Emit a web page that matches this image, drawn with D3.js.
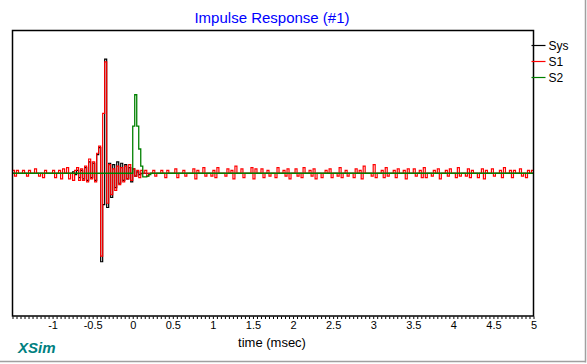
<!DOCTYPE html>
<html><head><meta charset="utf-8">
<script src="https://cdn.jsdelivr.net/npm/d3@7"></script>
<style>
body{margin:0;background:#fff;}
svg{display:block;font-family:"Liberation Sans",Arial,sans-serif;}
</style></head>
<body>
<svg id="c" width="587" height="364"></svg>
<script>
// ---- data ----
const title = "Impulse Response (#1)";
const xLabel = "time (msec)";
const brand = "XSim";
const seriesNames = ["Sys", "S1", "S2"];
const seriesColors = ["#000000", "#ff0000", "#008000"];
const tStart = -1.5;      // msec, first sample
const tStep = 0.025;      // msec, sample period
const xDomain = [-1.5, 5];
const majorTicks = [-1, -0.5, 0, 0.5, 1, 1.5, 2, 2.5, 3, 3.5, 4, 4.5, 5];
const minorStep = 0.05;

const sysValues = [
0,0,0,0,0,0,0,0,0,0,0,0,0,0,0,0,0,0,0,0,
0,0,0,0,0,0,0,0,0,0,.01,-.01,.02,-.03,.02,-.04,.04,-.05,.08,-.03,
.07,-.05,.13,.18,-.62,-.22,.8,-.24,.07,-.17,.06,-.1,.08,-.07,.07,-.05,.06,-.04,.04,-.06,
.03,-.02,.01,-.01,0,0,0,0,0,0,0,0,0,0,0,0,0,0,0,0,
0,0,0,0,0,0,0,0,0,0,0,0,0,0,0,0,0,0,0,0,
0,0,0,0,0,0,0,0,0,0,0,0,0,0,0,0,0,0,0,0,
0,0,0,0,0,0,0,0,0,0,0,0,0,0,0,0,0,0,0,0,
0,0,0,0,0,0,0,0,0,0,0,0,0,0,0,0,0,0,0,0,
0,0,0,0,0,0,0,0,0,0,0,0,0,0,0,0,0,0,0,0,
0,0,0,0,0,0,0,0,0,0,0,0,0,0,0,0,0,0,0,0,
0,0,0,0,0,0,0,0,0,0,0,0,0,0,0,0,0,0,0,0,
0,0,0,0,0,0,0,0,0,0,0,0,0,0,0,0,0,0,0,0,
0,0,0,0,0,0,0,0,0,0,0,0,0,0,0,0,0,0,0,0,
0];

const s1Values = [
.02,-.02,.02,0,0,.02,0,-.02,.02,0,0,.03,0,-.02,0,-.03,.02,0,0,0,
.02,-.03,0,.02,-.04,.03,0,.04,-.04,0,-.05,.02,.04,-.05,.03,-.05,.05,-.06,.1,-.04,
.08,-.06,.14,.19,-.58,.42,.78,-.21,.06,-.15,.03,-.12,.05,-.08,.04,-.06,.05,-.04,.06,-.05,
.03,-.02,.02,-.03,.02,0,.02,-.02,0,0,.02,-.02,0,0,.02,0,-.03,.02,0,0,
0,.03,-.03,0,0,.02,-.02,0,0,0,.03,-.04,.02,0,0,.04,-.02,0,0,-.02,
.02,-.03,.04,0,0,0,-.02,.03,0,.02,-.04,.05,0,0,.03,-.03,0,0,0,.04,
-.04,.03,0,0,.03,-.03,0,.02,-.02,0,0,-.03,.04,0,0,.02,-.02,.03,-.04,0,
0,.03,-.02,0,-.03,.04,0,0,.02,-.02,.03,-.04,0,0,-.03,0,.02,0,.03,-.03,
0,0,-.02,.04,-.03,0,.02,-.02,0,0,-.03,.03,0,.02,-.04,.05,0,0,0,-.02,
.06,-.03,0,0,.02,-.03,.04,-.02,0,0,.02,-.03,.03,0,0,.02,-.04,.03,0,0,
.03,-.02,0,.02,-.03,.04,-.03,0,0,-.02,.02,0,.03,-.04,0,0,.02,-.02,.03,0,
0,-.03,.04,-.02,0,0,-.02,.03,-.03,.02,0,0,-.03,0,.03,-.04,.02,0,0,.03,
-.02,0,0,.02,-.03,.04,0,0,.02,-.03,.02,0,0,.03,-.02,0,-.03,.02,0,.02,
.02];

const s2Values = [
0,0,0,0,0,0,0,0,0,0,0,0,0,0,0,0,0,0,0,0,
0,0,0,0,0,0,0,0,0,0,0,0,0,0,0,0,0,0,0,0,
0,0,0,0,0,0,0,0,0,0,0,0,0,0,0,0,0,0,0,0,
.33,.55,.33,.17,.05,-.025,-.025,-.02,-.01,0,0,0,0,0,0,0,0,0,0,0,
0,0,0,0,0,0,0,0,0,0,0,0,0,0,0,0,0,0,0,0,
0,0,0,0,0,0,0,0,0,0,0,0,0,0,0,0,0,0,0,0,
0,0,0,0,0,0,0,0,0,0,0,0,0,0,0,0,0,0,0,0,
0,0,0,0,0,0,0,0,0,0,0,0,0,0,0,0,0,0,0,0,
0,0,0,0,0,0,0,0,0,0,0,0,0,0,0,0,0,0,0,0,
0,0,0,0,0,0,0,0,0,0,0,0,0,0,0,0,0,0,0,0,
0,0,0,0,0,0,0,0,0,0,0,0,0,0,0,0,0,0,0,0,
0,0,0,0,0,0,0,0,0,0,0,0,0,0,0,0,0,0,0,0,
0,0,0,0,0,0,0,0,0,0,0,0,0,0,0,0,0,0,0,0,
0];

const seriesValues = [sysValues, s1Values, s2Values];

// ---- layout ----
const W = 587, H = 364;
const plot = {left: 12.5, right: 533.5, top: 30.5, bottom: 316};
const svg = d3.select("#c");

const x = d3.scaleLinear().domain(xDomain).range([plot.left, plot.right]);
const y = d3.scaleLinear().domain([-1, 1]).range([plot.bottom, plot.top]);

// outer sunken border (right + bottom)
svg.append("line").attr("x1", W - 1.5).attr("x2", W - 1.5).attr("y1", 0).attr("y2", H - 1.5)
  .attr("stroke", "#a0a0a0").attr("stroke-width", 1.5);
svg.append("line").attr("x1", 0).attr("x2", W - 1.5).attr("y1", H - 2.5).attr("y2", H - 2.5)
  .attr("stroke", "#a0a0a0").attr("stroke-width", 1.5);

// title
svg.append("text").attr("x", 272).attr("y", 23).attr("text-anchor", "middle")
  .attr("fill", "#0000ff").attr("font-size", 15).text(title);

// clip
svg.append("defs").append("clipPath").attr("id", "clip").append("rect")
  .attr("x", plot.left).attr("y", plot.top)
  .attr("width", plot.right - plot.left).attr("height", plot.bottom - plot.top);

const line = d3.line()
  .x((d, i) => x(tStart + i * tStep))
  .y(d => y(d))
  .curve(d3.curveStepAfter);

const g = svg.append("g").attr("clip-path", "url(#clip)");
const widths = [1.2, 1.2, 1.3];
seriesValues.forEach((vals, k) => {
  g.append("path").datum(vals).attr("d", line)
    .attr("fill", "none").attr("stroke", seriesColors[k])
    .attr("stroke-width", widths[k]).attr("stroke-linejoin", "miter");
});

// frame
svg.append("rect").attr("x", plot.left).attr("y", plot.top)
  .attr("width", plot.right - plot.left).attr("height", plot.bottom - plot.top)
  .attr("fill", "none").attr("stroke", "#000").attr("stroke-width", 1.5);

// minor ticks
const minorVals = d3.range(0, Math.round((xDomain[1] - xDomain[0]) / minorStep) + 1)
  .map(i => xDomain[0] + i * minorStep);
const minorAxis = svg.append("g").attr("transform", `translate(0,${plot.bottom + 0.5})`)
  .call(d3.axisBottom(x).tickValues(minorVals).tickSize(2.5).tickFormat(""));
minorAxis.select(".domain").remove();
minorAxis.selectAll("line").attr("stroke", "#000").attr("stroke-width", 1);

// labels
const labAxis = svg.append("g").attr("transform", `translate(0,${plot.bottom})`)
  .call(d3.axisBottom(x).tickValues(majorTicks).tickSize(0).tickPadding(5).tickFormat(d => String(d)));
labAxis.select(".domain").remove();
labAxis.selectAll("text").attr("font-size", 11).attr("fill", "#000")
  .attr("font-family", "Liberation Sans, Arial, sans-serif");

// x label
svg.append("text").attr("x", 272).attr("y", 347).attr("text-anchor", "middle")
  .attr("font-size", 13).attr("fill", "#000").text(xLabel);

// brand
svg.append("text").attr("x", 18).attr("y", 353)
  .attr("font-size", 15).attr("font-weight", "bold").attr("font-style", "italic")
  .attr("fill", "#008080").text(brand);

// legend
const legY = d3.scalePoint().domain(seriesNames).range([45.5, 77.5]);
seriesNames.forEach((n, k) => {
  svg.append("line").attr("x1", plot.right - 2).attr("x2", plot.right + 12)
    .attr("y1", legY(n)).attr("y2", legY(n))
    .attr("stroke", seriesColors[k]).attr("stroke-width", 1.2);
  svg.append("text").attr("x", plot.right + 15).attr("y", legY(n) + 4.5)
    .attr("font-size", 12).attr("fill", "#000").text(n);
});
</script>
</body></html>
